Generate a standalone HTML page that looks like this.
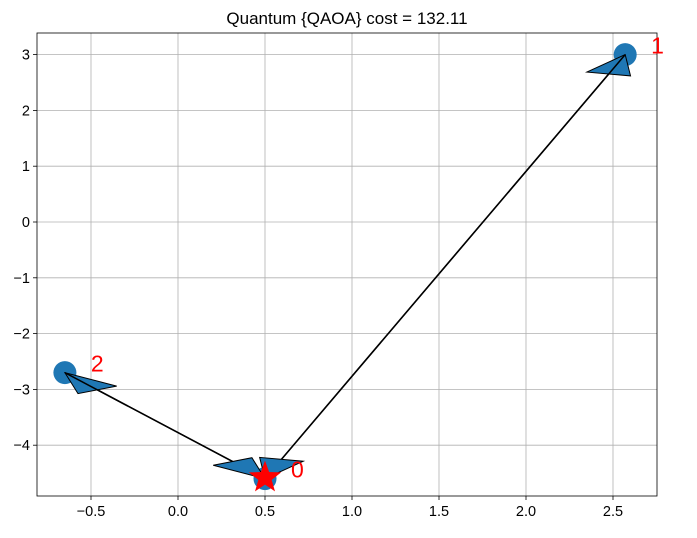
<!DOCTYPE html>
<html><head><meta charset="utf-8"><style>
body{margin:0;background:#fff}
svg{display:block;font-family:"Liberation Sans","DejaVu Sans",sans-serif}
</style></head><body>
<svg id="chart" width="697" height="538" viewBox="0 0 697 538"></svg>
<script>
const xTicks=[-0.5,0.0,0.5,1.0,1.5,2.0,2.5];
const yTicks=[3,2,1,0,-1,-2,-3,-4];
const labels=["0","1","2"];
const xs=[0.5,2.57,-0.65];
const ys=[-4.6,3.0,-2.7];
const arrowFrom=[0,0,1,2];
const arrowTo=[1,2,0,0];
const title="Quantum {QAOA} cost = 132.11";

const L=37,R=657,T=33,B=496;
const X=v=>178+v*174;
const Y=v=>222-v*55.8;
const NS="http://www.w3.org/2000/svg";
const svg=document.getElementById('chart');
function mk(tag,attrs,parent){const e=document.createElementNS(NS,tag);for(const k in attrs)e.setAttribute(k,attrs[k]);(parent||svg).appendChild(e);return e;}

xTicks.forEach(t=>{
  const g=mk('line',{x1:X(t),x2:X(t),y1:T,y2:B,stroke:'#b0b0b0','stroke-width':0.8});
  
  
  mk('line',{x1:X(t),x2:X(t),y1:B,y2:B+4,stroke:'#000','stroke-width':0.8});
  const tx=mk('text',{x:X(t),y:B+20,'text-anchor':'middle','font-size':14.5,fill:'#000'});
  tx.textContent=t.toFixed(1).replace('-','\u2212');
  
  
});
yTicks.forEach(t=>{
  const g=mk('line',{x1:L,x2:R,y1:Y(t),y2:Y(t),stroke:'#b0b0b0','stroke-width':0.8});
  
  
  mk('line',{x1:L-4,x2:L,y1:Y(t),y2:Y(t),stroke:'#000','stroke-width':0.8});
  const tx=mk('text',{x:L-7,y:Y(t)+5,'text-anchor':'end','font-size':14.5,fill:'#000'});
  tx.textContent=String(t).replace('-','\u2212');
  
  
});
const frame=mk('rect',{x:L,y:T,width:R-L,height:B-T,fill:'none',stroke:'#000','stroke-width':0.8});



const tt=mk('text',{x:(L+R)/2,y:24,'text-anchor':'middle','font-size':17,fill:'#000'});
tt.textContent=title;



xs.forEach((x,i)=>{
  const c=mk('circle',{cx:X(x),cy:Y(ys[i]),r:11.5,fill:'#1f77b4'});
  
  
});

const HL=0.36,HW=0.26;
arrowFrom.forEach((f,k)=>{
  const t=arrowTo[k];
  const dx=xs[t]-xs[f],dy=ys[t]-ys[f],len=Math.hypot(dx,dy);
  const ux=dx/len,uy=dy/len,nx=-uy,ny=ux;
  const bx=xs[t]-HL*ux,by=ys[t]-HL*uy;
  const ln=mk('line',{x1:X(xs[f]),y1:Y(ys[f]),x2:X(bx),y2:Y(by),stroke:'#000','stroke-width':1.5});
  
  
  const p=[[xs[t],ys[t]],[bx+HW/2*nx,by+HW/2*ny],[bx-HW/2*nx,by-HW/2*ny]];
  const hd=mk('polygon',{points:p.map(q=>X(q[0])+','+Y(q[1])).join(' '),fill:'#1f77b4',stroke:'#000','stroke-width':1});
  
  
});

(function(){
  const cx=X(xs[0]),cy=Y(ys[0])-1,ro=17,ri=7;let pts=[];
  for(let i=0;i<10;i++){const a=-Math.PI/2+i*Math.PI/5,r=i%2?ri:ro;pts.push((cx+r*Math.cos(a))+','+(cy+r*Math.sin(a)));}
  const s=mk('polygon',{points:pts.join(' '),fill:'#ff0000'});
  
  
})();

labels.forEach((l,i)=>{
  const tx=mk('text',{x:X(xs[i])+26,y:Y(ys[i])-1,'font-size':23,fill:'#ff0000'});
  tx.textContent=l;
  
  
});
</script>
</body></html>
